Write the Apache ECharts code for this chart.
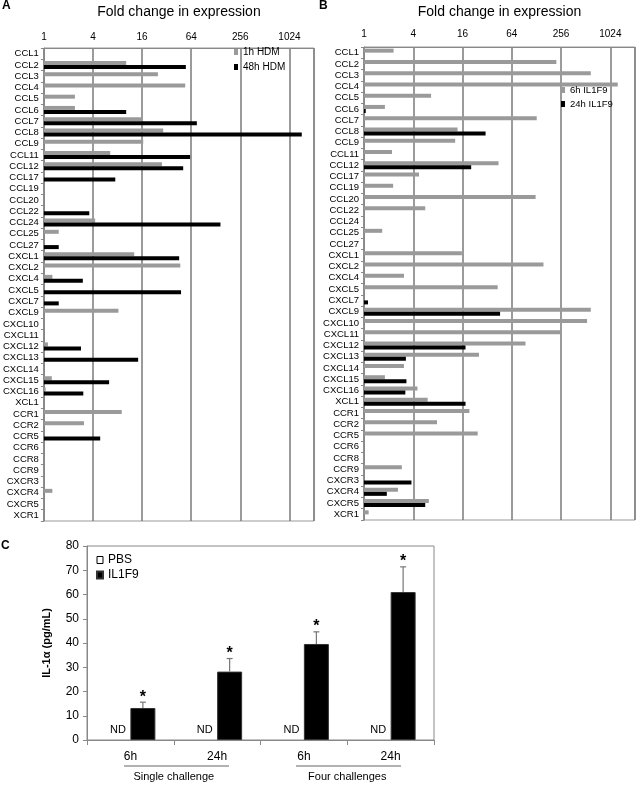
<!DOCTYPE html>
<html><head><meta charset="utf-8">
<script src="https://cdn.jsdelivr.net/npm/echarts@6/dist/echarts.min.js"></script>
<style>html,body{margin:0;padding:0;background:#fff}#c{width:638px;height:785px}</style>
</head><body><div id="c"></div>
<script>
// ---------- DATA ----------
const genes = ['CCL1','CCL2','CCL3','CCL4','CCL5','CCL6','CCL7','CCL8','CCL9','CCL11','CCL12','CCL17','CCL19','CCL20','CCL22','CCL24','CCL25','CCL27',
  'CXCL1','CXCL2','CXCL4','CXCL5','CXCL7','CXCL9','CXCL10','CXCL11','CXCL12','CXCL13','CXCL14','CXCL15','CXCL16','XCL1',
  'CCR1','CCR2','CCR5','CCR6','CCR8','CCR9','CXCR3','CXCR4','CXCR5','XCR1'];
// Panel A (fold change, HDM)
const hdm1h  = ['-',10.2,25,54,2.4,2.4,15.7,29,16.5,6.5,28,'-','-','-','-',4.25,1.52,'-',
  12.8,47,1.27,'-','-',8.2,'-','-',1.12,'-','-',1.25,1.05,'-',
  9.0,3.1,'-','-','-','-','-',1.27,'-','-'];
const hdm48h = ['-',55,'-','-','-',10.2,75,1450,'-',62,51,7.5,'-','-',3.6,146,'-',1.52,
  45.5,'-',3.0,48,1.52,'-','-','-',2.85,14.3,'-',6.3,3.04,'-',
  '-','-',4.9,'-','-','-','-','-','-','-'];
// Panel B (fold change, IL1F9)
const il6h  = [2.3,224,590,1260,6.6,1.8,129,13.9,13,2.2,44,4.7,2.27,125,5.6,'-',1.67,'-',
  15.7,156,3.08,43,'-',590,532,256,94,25.4,3.08,1.8,4.5,6.0,
  19.4,7.8,24.5,'-','-',2.9,'-',2.6,6.2,1.14];
const il24h = ['-','-','-','-','-',1.05,'-',30.6,'-','-',20.4,'-','-','-','-','-','-','-',
  '-','-','-','-',1.12,46,'-','-',17.4,3.25,'-',3.3,3.2,17.4,
  '-','-','-','-','-','-',3.8,1.9,5.6,'-'];
const foldTicks = [1,4,16,64,256,1024];
// Panel C (IL-1alpha pg/mL)
const timeLabels = ['6h','24h','6h','24h'];
const groupLabels = ['Single challenge','Four challenges'];
const pbsVals = [0,0,0,0];
const il1f9Vals = [13.2,28.2,39.6,61.0];
const il1f9Upper = [15.6,33.6,44.6,71.4];

// ---------- STYLE ----------
const FONT = 'Liberation Sans, Arial, sans-serif';
const GRAY = '#9a9a9a';
const BAR_C = 25;

const chart = echarts.init(document.getElementById('c'), null, {renderer:'canvas'});

function foldAxis(grid, labelMargin) {
  return {
    type:'log', logBase:2, min:1, max:2048, interval:2, gridIndex:grid, position:'top',
    name:'Fold change in expression', nameLocation:'middle', nameGap: grid===0?29:28,
    nameTextStyle:{fontSize:14, color:'#000'},
    axisLine:{show:true, lineStyle:{color:'#888'}},
    axisTick:{show:false},
    axisLabel:{fontSize:10, color:'#000', margin:labelMargin,
      formatter:v=>{const r=Math.round(v); return foldTicks.indexOf(r)>=0? String(r):'';}},
    splitLine:{show:true, lineStyle:{color:'#7a7a7a', width:1.5}}
  };
}
function geneAxis(grid) {
  return {
    type:'category', data:genes, inverse:true, gridIndex:grid,
    axisLine:{show:true, lineStyle:{color:'#888'}},
    axisTick:{show:true, length:3, lineStyle:{color:'#888'}},
    axisLabel:{fontSize:9.5, color:'#000', margin:5, interval:0}
  };
}

const errData = il1f9Vals.map((v,i)=>[i, v, il1f9Upper[i]]);

chart.setOption({
  animation:false,
  textStyle:{fontFamily:FONT},
  title:[
    {text:'A', left:2, top:0, textStyle:{fontSize:12, fontWeight:'bold', color:'#000'}, padding:0},
    {text:'B', left:319, top:0, textStyle:{fontSize:12, fontWeight:'bold', color:'#000'}, padding:0},
    {text:'C', left:1, top:540, textStyle:{fontSize:12, fontWeight:'bold', color:'#000'}, padding:0}
  ],
  legend:[
    {data:['1h HDM','48h HDM'], orient:'vertical', left:234, top:47, padding:0, itemWidth:4, itemHeight:6, itemGap:5,
      icon:'rect', textStyle:{fontSize:10, color:'#000'}},
    {data:['6h IL1F9','24h IL1F9'], orient:'vertical', left:561, top:85, padding:0, itemWidth:4, itemHeight:6, itemGap:4,
      icon:'rect', textStyle:{fontSize:9.5, color:'#000'}},
    {data:[{name:'PBS', itemStyle:{color:'#fff', borderColor:'#000', borderWidth:1}}, {name:'IL1F9'}],
      orient:'vertical', left:96, top:554, padding:0, itemWidth:6, itemHeight:7, itemGap:3,
      icon:'rect', textStyle:{fontSize:12, color:'#000'}}
  ],
  grid:[
    {left:41, top:36, width:273, height:485, show:true, borderColor:'#999', borderWidth:1},
    {left:364, top:35, width:272, height:485, show:true, borderColor:'#999', borderWidth:1},
    {left:87, top:546, width:347, height:194, show:true, borderColor:'#888', borderWidth:1}
  ],
  xAxis:[
    foldAxis(0,6), foldAxis(1,8),
    {type:'category', data:timeLabels, gridIndex:2, position:'bottom',
      axisLine:{show:true, lineStyle:{color:'#888'}},
      axisTick:{show:true, length:5, lineStyle:{color:'#888'}},
      axisLabel:{fontSize:12, color:'#000', margin:11}},
    {type:'category', data:groupLabels, gridIndex:2, position:'bottom',
      axisLine:{show:false}, axisTick:{show:false},
      axisLabel:{fontSize:11, color:'#000', margin:31}}
  ],
  yAxis:[
    geneAxis(0), geneAxis(1),
    {type:'value', gridIndex:2, min:0, max:80, interval:10,
      name:'IL-1α (pg/mL)', nameLocation:'middle', nameGap:35,
      nameTextStyle:{fontSize:11, fontWeight:'bold', color:'#000'},
      axisLine:{show:true, lineStyle:{color:'#888'}},
      axisTick:{show:true, length:4, lineStyle:{color:'#888'}},
      axisLabel:{fontSize:12, color:'#000', margin:8},
      splitLine:{show:false}}
  ],
  series:[
    {name:'1h HDM', type:'bar', xAxisIndex:0, yAxisIndex:0, data:hdm1h, barWidth:4, barGap:'0%', itemStyle:{color:GRAY}},
    {name:'48h HDM', type:'bar', xAxisIndex:0, yAxisIndex:0, data:hdm48h, barWidth:4, barGap:'0%', itemStyle:{color:'#000'}},
    {name:'6h IL1F9', type:'bar', xAxisIndex:1, yAxisIndex:1, data:il6h, barWidth:4, barGap:'0%', itemStyle:{color:GRAY}},
    {name:'24h IL1F9', type:'bar', xAxisIndex:1, yAxisIndex:1, data:il24h, barWidth:4, barGap:'0%', itemStyle:{color:'#000'}},
    {name:'PBS', type:'bar', xAxisIndex:2, yAxisIndex:2, data:pbsVals, barWidth:BAR_C, barGap:'0%',
      itemStyle:{color:'#fff', borderWidth:0},
      label:{show:true, position:'top', distance:5, formatter:'ND', fontSize:11, color:'#000'}},
    {name:'IL1F9', type:'bar', xAxisIndex:2, yAxisIndex:2, data:il1f9Vals, barWidth:BAR_C, barGap:'0%',
      itemStyle:{color:'#000', borderColor:'#333', borderWidth:1}},
    {name:'err', type:'custom', xAxisIndex:2, yAxisIndex:2, data:errData, z:5,
      renderItem:function(params, api){
        const i = api.value(0);
        const b = api.coord([i, api.value(1)]);
        const t = api.coord([i, api.value(2)]);
        const x = b[0] + BAR_C/2;
        return {type:'group', children:[
          {type:'line', shape:{x1:x, y1:b[1], x2:x, y2:t[1]}, style:{stroke:'#777', lineWidth:1.2}},
          {type:'line', shape:{x1:x-3, y1:t[1], x2:x+3, y2:t[1]}, style:{stroke:'#777', lineWidth:1.2}},
          {type:'text', style:{text:'*', x:x, y:t[1]+3, textAlign:'center', textVerticalAlign:'bottom',
            font:'bold 16px Liberation Sans', fill:'#000'}}
        ]};
      }}
  ],
  graphic:[
    {type:'line', shape:{x1:124, y1:766, x2:229, y2:766}, style:{stroke:'#999', lineWidth:1.5}},
    {type:'line', shape:{x1:296, y1:766, x2:401, y2:766}, style:{stroke:'#999', lineWidth:1.5}}
  ]
});
</script>
</body></html>
